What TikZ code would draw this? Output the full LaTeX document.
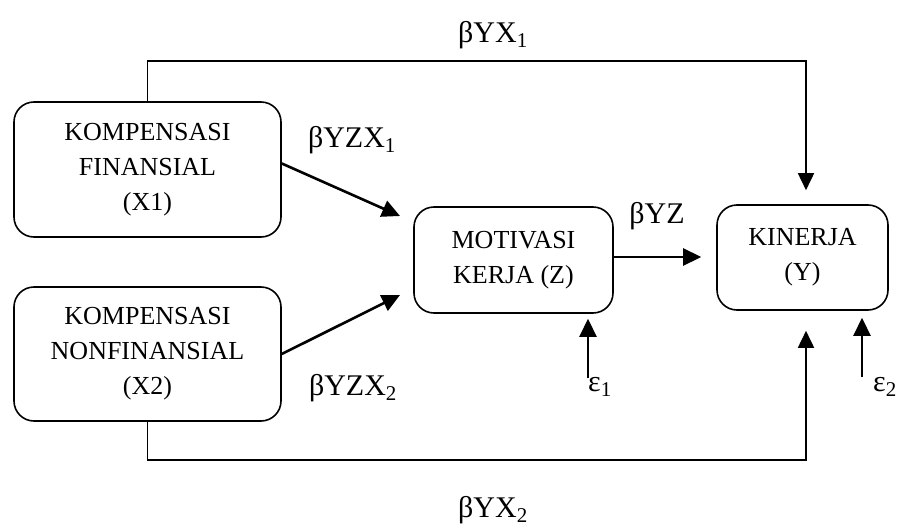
\documentclass[tikz,border=0pt]{standalone}
\usepackage{fontspec}
\setmainfont{Liberation Serif}
\usetikzlibrary{arrows.meta}
\usetikzlibrary{positioning}
\tikzset{rbox/.style = {draw, rounded corners = 20pt, line width = 1.6pt, align = center, inner sep = 0, font = \fontsize{26}{35}\selectfont}}
\tikzset{arr/.style = {line width = 2.6pt, -{Triangle[length = 18pt, width = 17pt]}}}
\tikzset{conn/.style = {line width = 1.7pt, -{Triangle[length = 17pt, width = 16pt]}}}
\tikzset{lbl/.style = {inner sep = 0, font = \fontsize{30}{34}\selectfont}}

\begin{document}
\begin{tikzpicture}[x = 1pt, y = -1pt]
          \useasboundingbox (0, 0) rectangle (898, 530);

          \node [rbox, minimum width = 267, minimum height = 135] (x1) at (147.5, 169.5) {KOMPENSASI\\FINANSIAL\\(X1)};
          \node [rbox, minimum width = 267, minimum height = 134] (x2) at (147.5, 354) {KOMPENSASI\\NONFINANSIAL\\(X2)};
          \node [rbox, minimum width = 199, minimum height = 106] (z) at (513.5, 260) {MOTIVASI\\KERJA (Z)};
          \node [rbox, minimum width = 171, minimum height = 105] (ky) at (802.5, 257.5) {KINERJA\\(Y)};

          \coordinate (tz1) at (400, 216);
          \coordinate (tz2) at (400, 295);
          \coordinate (top) at (806, 61);
          \coordinate (bot) at (806, 460);
          \coordinate (e1) at (588, 378);
          \coordinate (e2) at (862, 377);

          \draw [conn, shorten > = 14pt] (x1.north) |- (top) -- (top |- ky.north);
          \draw [conn, shorten > = 20pt] (x2.south) |- (bot) -- (bot |- ky.south);
          \draw [arr] ([yshift = 6pt]x1.east) -- (tz1);
          \draw [arr] (x2.east) -- (tz2);
          \draw [arr, shorten > = 15pt] (z.east |- 0, 257) -- (ky.west |- 0, 257);
          \draw [arr, shorten > = 5pt] (e1) -- (e1 |- z.south);
          \draw [arr, shorten > = 7pt] (e2) -- (e2 |- ky.south);

          \node [lbl] (byx1) at (493, 35) {βYX\textsubscript{1}};
          \node [lbl] (byzx1) at (352, 140) {βYZX\textsubscript{1}};
          \node [lbl] (byz) at (657, 216) {βYZ};
          \node [lbl] (byzx2) at (353, 388) {βYZX\textsubscript{2}};
          \node [lbl] (byx2) at (493, 510) {βYX\textsubscript{2}};
          \node [lbl] (eps1) at (600, 387) {ε\textsubscript{1}};
          \node [lbl] (eps2) at (885, 387) {ε\textsubscript{2}};
        \end{tikzpicture}
\end{document}
